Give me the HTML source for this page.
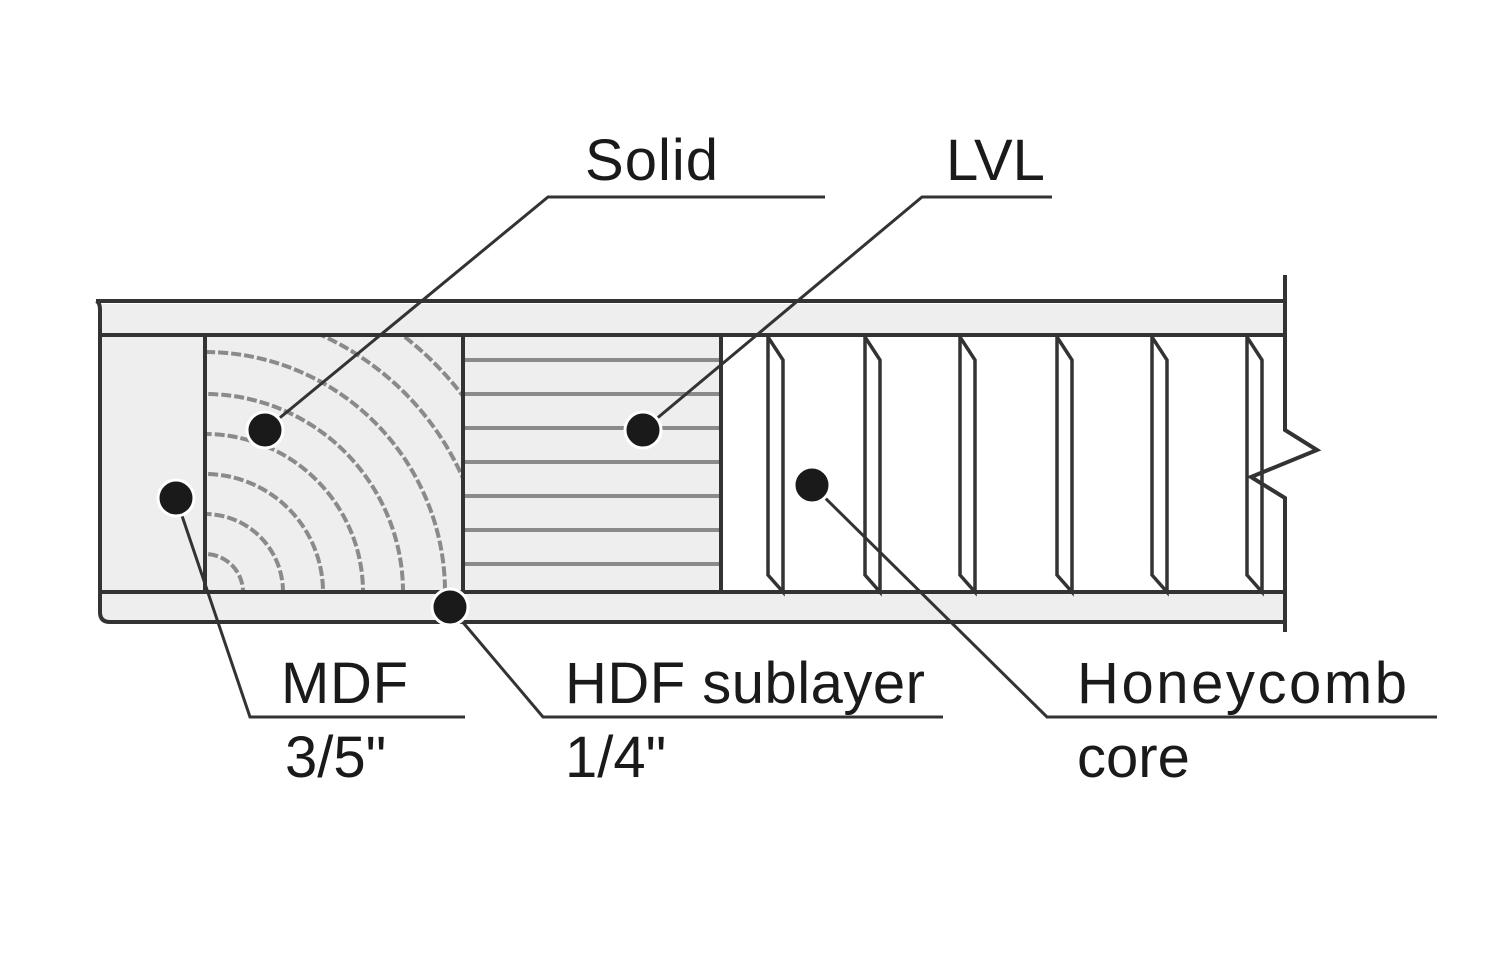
<!DOCTYPE html>
<html><head><style>
html,body{margin:0;padding:0;background:#fff;}
svg{display:block;}
text{font-family:"Liberation Sans",sans-serif;font-size:58px;fill:#1a1a1a;}
</style></head><body>
<svg width="1500" height="961" viewBox="0 0 1500 961" xmlns="http://www.w3.org/2000/svg">
<defs>
<clipPath id="sc"><rect x="207" y="337" width="254" height="253"/></clipPath>
</defs>
<rect x="102" y="304" width="1182" height="318" fill="#eeeeee"/>
<rect x="722" y="337" width="562" height="254" fill="#ffffff"/>
<g clip-path="url(#sc)" fill="none" stroke="#8a8a8a" stroke-width="4" stroke-dasharray="10 3">
<circle cx="205" cy="592" r="38"/><circle cx="205" cy="592" r="78"/><circle cx="205" cy="592" r="118"/>
<circle cx="205" cy="592" r="158"/><circle cx="205" cy="592" r="198"/><circle cx="205" cy="592" r="240"/>
<circle cx="205" cy="592" r="282"/><circle cx="205" cy="592" r="324"/>
</g>
<g stroke="#8a8a8a" stroke-width="4">
<line x1="465" y1="360" x2="720" y2="360"/><line x1="465" y1="394" x2="720" y2="394"/>
<line x1="465" y1="428" x2="720" y2="428"/><line x1="465" y1="462" x2="720" y2="462"/>
<line x1="465" y1="496" x2="720" y2="496"/><line x1="465" y1="530" x2="720" y2="530"/>
<line x1="465" y1="564" x2="720" y2="564"/>
</g>
<g fill="none" stroke="#333" stroke-width="4">
<path d="M96 301 L1284 301"/>
<path d="M100 310 L100 612 Q100 622 110 622 L1284 622"/>
<path d="M96 301 Q100 302 100 310"/>
<line x1="102" y1="335" x2="1284" y2="335"/>
<line x1="102" y1="592" x2="1284" y2="592"/>
<line x1="205" y1="335" x2="205" y2="592"/>
<line x1="463" y1="335" x2="463" y2="592"/>
<line x1="721" y1="335" x2="721" y2="592"/>
<path d="M1285 275 L1285 430 L1317 450 L1251 477 L1285 498 L1285 632"/>
</g>
<g fill="none" stroke="#333" stroke-width="3.5">
<path d="M768 337 L768 575 L783 592 L783 360 L768 337"/>
<path d="M865 337 L865 575 L880 592 L880 360 L865 337"/>
<path d="M960 337 L960 575 L975 592 L975 360 L960 337"/>
<path d="M1057 337 L1057 575 L1072 592 L1072 360 L1057 337"/>
<path d="M1152 337 L1152 575 L1167 592 L1167 360 L1152 337"/>
<path d="M1247 337 L1247 575 L1262 592 L1262 360 L1247 337"/>
</g>
<g fill="none" stroke="#333" stroke-width="3">
<path d="M265 430 L548 197 L825 197"/>
<path d="M643 430 L922 197 L1052 197"/>
<path d="M176 498 L250 717 L465 717"/>
<path d="M450 607 L543 717 L943 717"/>
<path d="M812 485 L1047 717 L1437 717"/>
</g>
<g fill="#1a1a1a" stroke="#fff" stroke-width="3">
<circle cx="265" cy="430" r="18"/><circle cx="643" cy="430" r="18"/>
<circle cx="176" cy="498" r="18"/><circle cx="450" cy="607" r="18"/>
<circle cx="812" cy="485" r="18"/>
</g>
<text x="585" y="180" textLength="133">Solid</text>
<text x="946" y="180">LVL</text>
<text x="281" y="703" textLength="127">MDF</text>
<text x="285" y="777">3/5"</text>
<text x="565" y="703" textLength="360">HDF sublayer</text>
<text x="565" y="777">1/4"</text>
<text x="1077" y="703" textLength="330">Honeycomb</text>
<text x="1077" y="777">core</text>
</svg>
</body></html>
